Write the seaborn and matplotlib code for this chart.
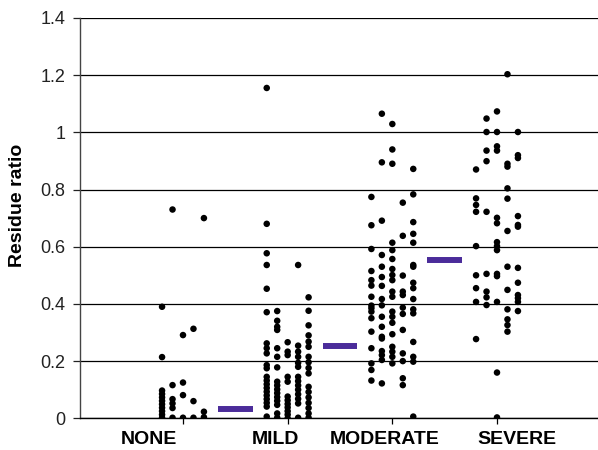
import matplotlib
matplotlib.use("Agg")
import matplotlib.pyplot as plt
import matplotlib.transforms as mtransforms
import seaborn as sns
import pandas as pd

# ---------------- data ----------------
categories = ["NONE", "MILD", "MODERATE", "SEVERE"]

# each group: list of sub-columns (left to right) of residue-ratio values
none_cols = [
    [0.39, 0.214, 0.097, 0.085, 0.073, 0.061, 0.049, 0.037, 0.025, 0.013, 0.002],
    [0.73, 0.116, 0.067, 0.052, 0.036, 0.002],
    [0.291, 0.125, 0.081, 0.002],
    [0.313, 0.06, 0.002],
    [0.70, 0.023, 0.004],
]
mild_cols = [
    [1.155, 0.68, 0.577, 0.536, 0.453, 0.371, 0.262, 0.245, 0.227, 0.186, 0.175,
     0.145, 0.132, 0.119, 0.106, 0.093, 0.080, 0.067, 0.054, 0.041, 0.006],
    [0.375, 0.341, 0.32, 0.309, 0.245, 0.215, 0.178, 0.128, 0.115, 0.101, 0.088,
     0.074, 0.061, 0.047, 0.017, 0.002],
    [0.266, 0.233, 0.221, 0.145, 0.128, 0.076, 0.063, 0.05, 0.038, 0.025, 0.013, 0.0],
    [0.536, 0.254, 0.233, 0.215, 0.194, 0.18, 0.145, 0.130, 0.115, 0.100, 0.084,
     0.068, 0.052, 0.002],
    [0.423, 0.376, 0.325, 0.29, 0.268, 0.25, 0.215, 0.196, 0.176, 0.157, 0.11,
     0.092, 0.073, 0.054, 0.036, 0.017, 0.002],
]
moderate_cols = [
    [0.774, 0.675, 0.592, 0.515, 0.483, 0.464, 0.425, 0.394, 0.385, 0.373, 0.35,
     0.303, 0.245, 0.192, 0.169, 0.132],
    [1.065, 0.895, 0.691, 0.571, 0.53, 0.494, 0.463, 0.417, 0.395, 0.355, 0.32,
     0.285, 0.279, 0.235, 0.221, 0.204, 0.122],
    [1.029, 0.94, 0.89, 0.614, 0.588, 0.557, 0.522, 0.501, 0.483, 0.443, 0.425,
     0.373, 0.355, 0.334, 0.294, 0.25, 0.233, 0.215, 0.192],
    [0.754, 0.638, 0.499, 0.443, 0.431, 0.387, 0.365, 0.309, 0.227, 0.2, 0.14, 0.116],
    [0.872, 0.783, 0.686, 0.645, 0.614, 0.536, 0.53, 0.474, 0.455, 0.417, 0.381,
     0.367, 0.267, 0.215, 0.198, 0.006],
]
severe_cols = [
    [0.87, 0.769, 0.746, 0.722, 0.602, 0.5, 0.455, 0.407, 0.277],
    [1.048, 1.001, 0.936, 0.899, 0.722, 0.505, 0.443, 0.423, 0.396],
    [1.073, 1.001, 0.951, 0.936, 0.701, 0.682, 0.616, 0.602, 0.588, 0.505, 0.497,
     0.407, 0.16, 0.003],
    [1.203, 0.89, 0.88, 0.804, 0.768, 0.655, 0.53, 0.449, 0.381, 0.346, 0.326, 0.303],
    [1.001, 0.92, 0.91, 0.707, 0.676, 0.67, 0.526, 0.474, 0.431, 0.42, 0.407, 0.375],
]
group_cols = [none_cols, mild_cols, moderate_cols, severe_cols]

# horizontal bars (group summary values), drawn to the right of NONE, MILD, MODERATE
bar_values = [0.034, 0.252, 0.552]

y_ticks = [0, 0.2, 0.4, 0.6, 0.8, 1, 1.2, 1.4]
y_tick_labels = ["0", "0.2", "0.4", "0.6", "0.8", "1", "1.2", "1.4"]
y_label = "Residue ratio"

# ---------------- layout ----------------
col_step = 0.1
label_x = [0.67, 1.88, 2.93, 4.19]

rows = []
for gi, cols in enumerate(group_cols):
    n = len(cols)
    for ci, vals in enumerate(cols):
        for v in vals:
            rows.append({"group": categories[gi],
                         "x": gi + 1 + (ci - (n - 1) / 2) * col_step,
                         "ratio": v})
df = pd.DataFrame(rows)

sns.set_style("white")
plt.rcParams["font.family"] = ["Liberation Sans", "DejaVu Sans"]

fig = plt.figure(figsize=(5.98, 4.5), dpi=100)
ax = fig.add_axes([80 / 598, (450 - 418.3) / 450, 518 / 598, 400.4 / 450])

sns.scatterplot(data=df, x="x", y="ratio", color="black", s=22,
                edgecolor="none", linewidth=0, ax=ax, zorder=3, legend=False)

for i, v in enumerate(bar_values):
    ax.hlines(v, i + 1 + 1/3, i + 1 + 2/3, colors="#4B2C9A", linewidth=4.3,
              zorder=4)

ax.set_xlim(0.016, 4.965)
ax.set_ylim(0, 1.4)
ax.set_yticks(y_ticks)
ax.set_yticklabels(y_tick_labels)
ax.set_xticks([1, 2, 3, 4])
ax.set_xticklabels([])
ax.yaxis.grid(True, color="black", linewidth=0.9)
ax.xaxis.grid(False)
ax.set_axisbelow(True)

for s in ["top", "right"]:
    ax.spines[s].set_visible(False)
ax.spines["left"].set_color("#444444")
ax.spines["left"].set_linewidth(1.0)
ax.spines["bottom"].set_color("black")
ax.spines["bottom"].set_linewidth(1.0)

ax.tick_params(axis="y", direction="out", length=5, width=0.9, pad=5.5,
               labelsize=13, colors="#222222", left=True)
ax.tick_params(axis="x", direction="out", length=4.3, width=0.9,
               colors="black", bottom=True)

ax.set_xlabel("")
ax.set_ylabel("")
trans = mtransforms.blended_transform_factory(ax.transData, ax.transAxes)
for lx, name in zip(label_x, categories):
    ax.text(lx, -0.054, name, transform=trans, ha="center", va="center",
            fontsize=14, fontweight="bold", color="black")

fig.text(17.5 / 598, 1 - 205 / 450, y_label, rotation=90, ha="center",
         va="center", fontsize=14, fontweight="bold", color="black")

fig.savefig("out.png", dpi=100)
